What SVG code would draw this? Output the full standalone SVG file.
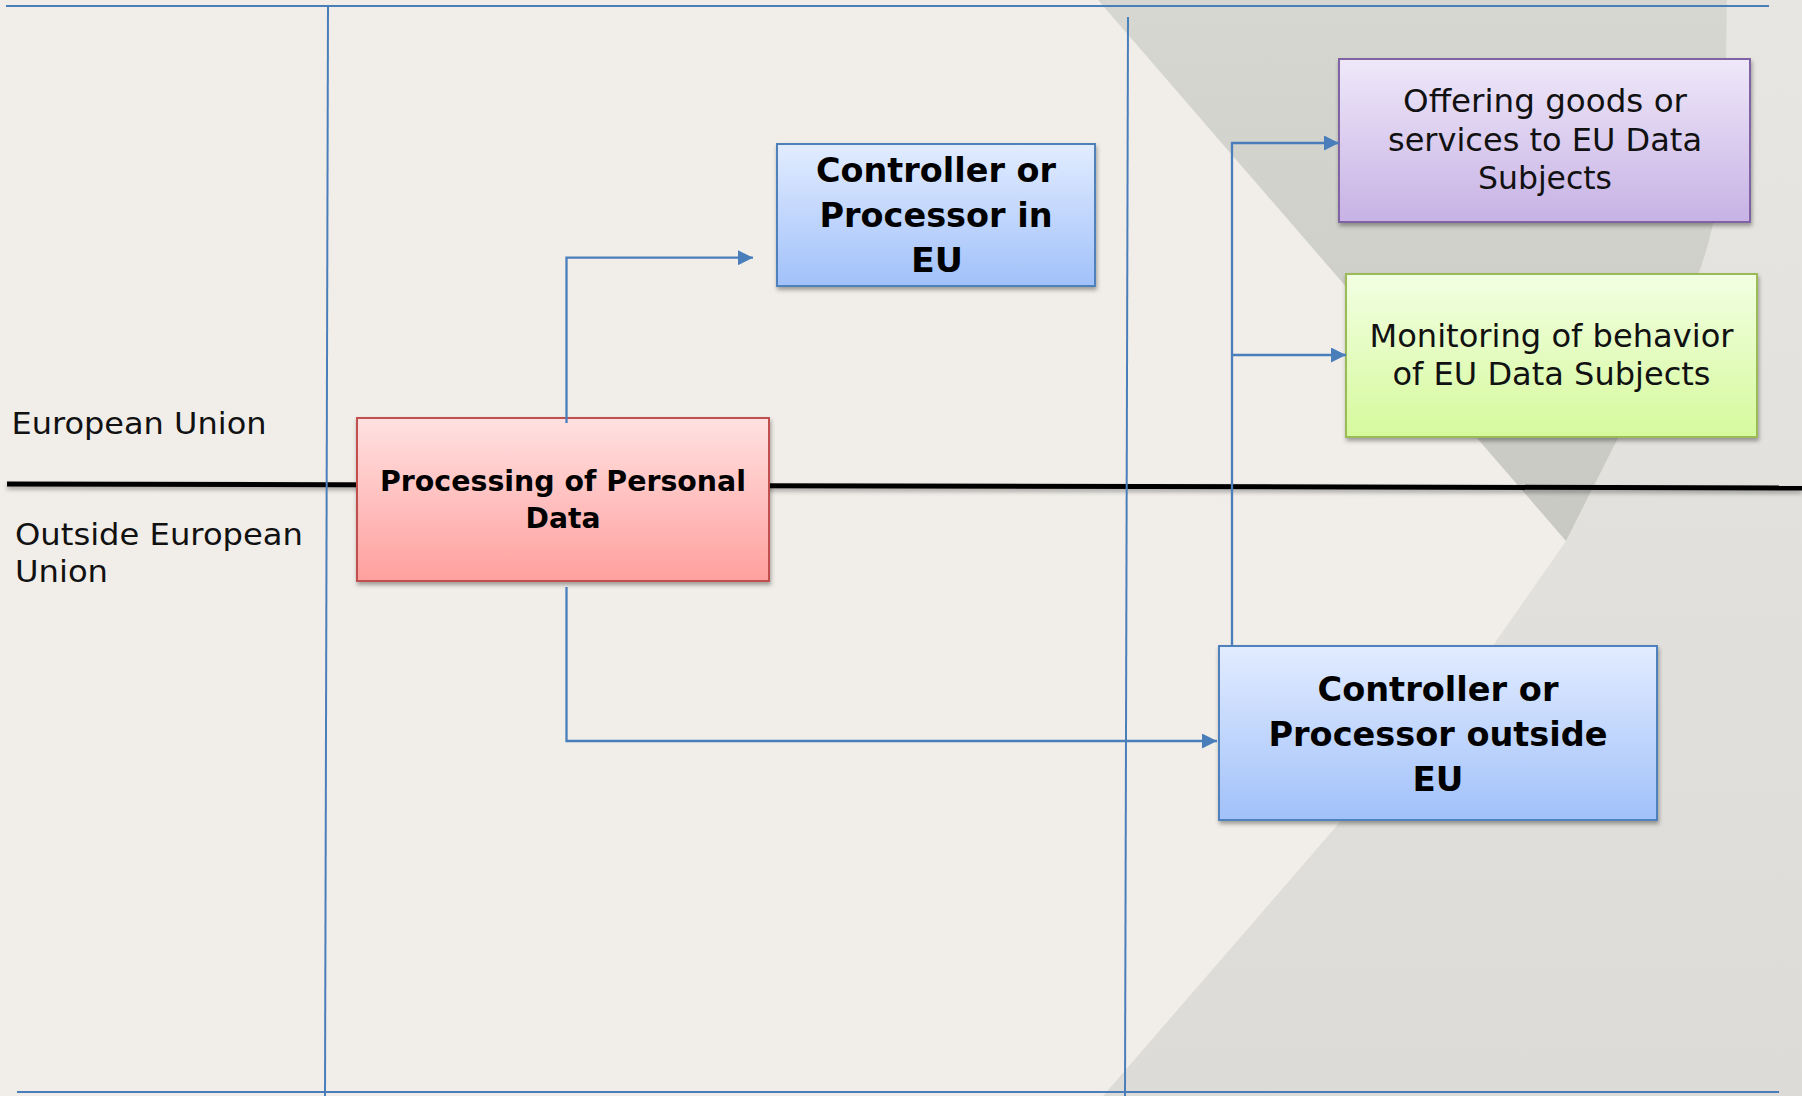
<svg xmlns="http://www.w3.org/2000/svg" width="1802" height="1096" viewBox="0 0 1802 1096">
  <defs>
    <linearGradient id="gBlue" x1="0" y1="0" x2="0" y2="1">
      <stop offset="0" stop-color="#E2ECFF"/>
      <stop offset="1" stop-color="#A1C1FA"/>
    </linearGradient>
    <linearGradient id="gRed" x1="0" y1="0" x2="0" y2="1">
      <stop offset="0" stop-color="#FFE1E1"/>
      <stop offset="1" stop-color="#FFA09E"/>
    </linearGradient>
    <linearGradient id="gPurple" x1="0" y1="0" x2="0" y2="1">
      <stop offset="0" stop-color="#EFE8F9"/>
      <stop offset="1" stop-color="#C7B2E5"/>
    </linearGradient>
    <linearGradient id="gGreen" x1="0" y1="0" x2="0" y2="1">
      <stop offset="0" stop-color="#F2FFE3"/>
      <stop offset="1" stop-color="#D6F99C"/>
    </linearGradient>
    <linearGradient id="gV" x1="0" y1="0" x2="0" y2="1">
      <stop offset="0" stop-color="#D7D7D2"/>
      <stop offset="1" stop-color="#C9C9C4"/>
    </linearGradient>
    <linearGradient id="gSide" x1="0" y1="0" x2="0" y2="1">
      <stop offset="0" stop-color="#E7E6E2"/>
      <stop offset="1" stop-color="#DCDBD7"/>
    </linearGradient>
    <filter id="shadow" x="-5%" y="-10%" width="112%" height="125%">
      <feDropShadow dx="1" dy="3" stdDeviation="2" flood-color="#000" flood-opacity="0.35"/>
    </filter>
    <filter id="lineShadow" filterUnits="userSpaceOnUse" x="0" y="470" width="1802" height="40">
      <feDropShadow dx="0" dy="3" stdDeviation="2" flood-color="#000" flood-opacity="0.3"/>
    </filter>
    <marker id="arrow" markerWidth="15" markerHeight="15" refX="15" refY="7.5" orient="auto" markerUnits="userSpaceOnUse">
      <path d="M0,0 L15,7.5 L0,15 Z" fill="#4A7EBB"/>
    </marker>
  </defs>
  <style>
    .frame { stroke: #4A7EBB; stroke-width: 2; fill: none; }
    .conn { stroke: #4A7EBB; stroke-width: 2.3; fill: none; }
    .box { stroke-width: 2; filter: url(#shadow); }
    .lbl { font-family: "DejaVu Sans", sans-serif; font-size: 30px; fill: #111; }
    .reg { font-family: "DejaVu Sans", sans-serif; font-size: 32px; fill: #111; text-anchor: middle; }
    .bold { font-family: "DejaVu Sans", sans-serif; font-weight: bold; fill: #000; text-anchor: middle; }
  </style>

  <!-- backdrop -->
  <rect x="0" y="0" width="1802" height="1096" fill="#F1EEEA"/>
  <path d="M1727,0 L1802,0 L1802,1096 L1103,1096 L1494,644 L1566,541 L1688,300 Q1718,235 1725,140 Z" fill="url(#gSide)"/>
  <path d="M1098,0 L1727,0 L1725,140 Q1718,235 1688,300 L1566,541 Z" fill="url(#gV)"/>

  <!-- EU border -->
  <line x1="7" y1="484" x2="1802" y2="488" stroke="#000" stroke-width="5" filter="url(#lineShadow)"/>

  <!-- frame lines -->
  <g id="frame">
    <line class="frame" x1="6" y1="6" x2="1769" y2="6"/>
    <line class="frame" x1="17" y1="1092" x2="1779" y2="1092" stroke-width="3"/>
    <line class="frame" x1="328" y1="6" x2="325" y2="1096"/>
    <line class="frame" x1="1128" y1="17" x2="1125" y2="1096"/>
  </g>

  <!-- region labels -->
  <g id="region-labels">
    <text class="lbl" x="11.5" y="434" textLength="255" lengthAdjust="spacingAndGlyphs">European Union</text>
    <text class="lbl" x="15" y="545" textLength="288" lengthAdjust="spacingAndGlyphs">Outside European</text>
    <text class="lbl" x="15" y="582" textLength="93" lengthAdjust="spacingAndGlyphs">Union</text>
  </g>

  <g id="node-controller-eu">
    <rect class="box" x="777" y="144" width="318" height="142" fill="url(#gBlue)" stroke="#4F81BD"/>
    <text class="bold" font-size="34" x="936" y="182" textLength="240" lengthAdjust="spacingAndGlyphs">Controller or</text>
    <text class="bold" font-size="34" x="936" y="227" textLength="233" lengthAdjust="spacingAndGlyphs">Processor in</text>
    <text class="bold" font-size="34" x="937" y="272" textLength="52" lengthAdjust="spacingAndGlyphs">EU</text>
  </g>

  <g id="node-processing">
    <rect class="box" x="357" y="418" width="412" height="163" fill="url(#gRed)" stroke="#C0504D"/>
    <text class="bold" font-size="28" x="563" y="491" textLength="366" lengthAdjust="spacingAndGlyphs">Processing of Personal</text>
    <text class="bold" font-size="28" x="563" y="528" textLength="75" lengthAdjust="spacingAndGlyphs">Data</text>
  </g>

  <g id="node-offering">
    <rect class="box" x="1339" y="59" width="411" height="163" fill="url(#gPurple)" stroke="#8064A2"/>
    <text class="reg" x="1545" y="112" textLength="284" lengthAdjust="spacingAndGlyphs">Offering goods or</text>
    <text class="reg" x="1545" y="150.5" textLength="314" lengthAdjust="spacingAndGlyphs">services to EU Data</text>
    <text class="reg" x="1545" y="189" textLength="134" lengthAdjust="spacingAndGlyphs">Subjects</text>
  </g>

  <g id="node-monitoring">
    <rect class="box" x="1346" y="274" width="411" height="163" fill="url(#gGreen)" stroke="#9BBB59"/>
    <text class="reg" x="1551.5" y="347" textLength="364" lengthAdjust="spacingAndGlyphs">Monitoring of behavior</text>
    <text class="reg" x="1551.5" y="385" textLength="318" lengthAdjust="spacingAndGlyphs">of EU Data Subjects</text>
  </g>

  <g id="node-controller-outside">
    <rect class="box" x="1219" y="646" width="438" height="174" fill="url(#gBlue)" stroke="#4F81BD"/>
    <text class="bold" font-size="34" x="1438" y="701" textLength="241" lengthAdjust="spacingAndGlyphs">Controller or</text>
    <text class="bold" font-size="34" x="1438" y="746" textLength="339" lengthAdjust="spacingAndGlyphs">Processor outside</text>
    <text class="bold" font-size="34" x="1438" y="791" textLength="51" lengthAdjust="spacingAndGlyphs">EU</text>
  </g>

  <g id="connectors">
    <path class="conn" d="M566.5,423 V257.7 H753" marker-end="url(#arrow)"/>
    <path class="conn" d="M566.5,587 V741 H1217" marker-end="url(#arrow)"/>
    <path class="conn" d="M1232,646 V142"/>
    <path class="conn" d="M1231,143 H1339" marker-end="url(#arrow)"/>
    <path class="conn" d="M1232,355 H1346" marker-end="url(#arrow)"/>
  </g>
</svg>
